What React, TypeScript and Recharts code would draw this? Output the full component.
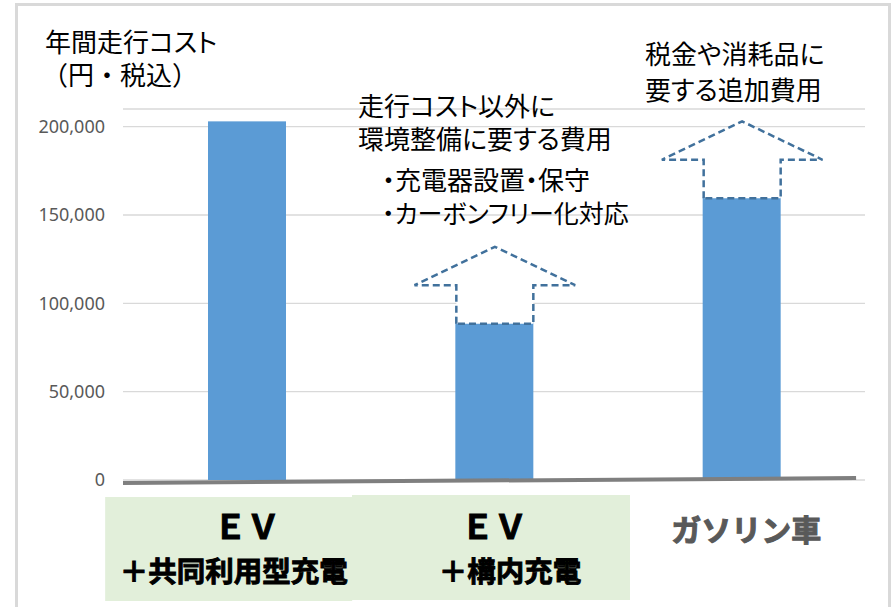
import React from 'react';
import { BarChart, Bar, XAxis, YAxis, CartesianGrid, ReferenceLine } from 'recharts';

// ---- data ----
const categories = ['ＥＶ＋共同利用型充電', 'ＥＶ＋構内充電', 'ガソリン車'];
const labelLine1 = ['ＥＶ', 'ＥＶ', 'ガソリン車'];
const labelLine2 = ['＋共同利用型充電', '＋構内充電', ''];
const annualCost = [203000, 92500, 160000];
const arrowBase: (number | null)[] = [null, 88500, 159500];
const arrowTip: (number | null)[] = [null, 132000, 203000];
const yTicks = [0, 50000, 100000, 150000, 200000];
const yAxisTitle = ['年間走行コスト', '（円・税込）'];
const noteMiddle = ['走行コスト以外に', '環境整備に要する費用', '・充電器設置・保守', '・カーボンフリー化対応'];
const noteRight = ['税金や消耗品に', '要する追加費用'];

const data = categories.map((name, i) => ({
  name,
  cost: annualCost[i],
  arrowBase: arrowBase[i],
  arrowTip: arrowTip[i],
}));

const JP = "'Noto Sans CJK JP', 'Noto Sans', sans-serif";

const CostBar = (props: any) => {
  const { x, y, width, height, payload } = props;
  const v = payload.cost;
  const k = height / v;
  const zeroY = y + height;
  const els: any[] = [<rect key="r" x={x} y={y} width={width} height={height} fill="#5b9bd5" />];
  if (payload.arrowBase != null && payload.arrowTip != null) {
    const yb = zeroY - payload.arrowBase * k;
    const yt = zeroY - payload.arrowTip * k;
    const ys = (yb + yt) / 2;
    const bx0 = x + 1;
    const bx1 = x + width;
    const cx = (bx0 + bx1) / 2;
    const wing = width * 1.03;
    const d = `M${bx0},${yb} L${bx0},${ys} L${cx - wing},${ys} L${cx},${yt} L${cx + wing},${ys} L${bx1},${ys} L${bx1},${yb} Z`;
    els.push(
      <path key="a" d={d} fill="#ffffff" stroke="#41719c" strokeWidth={2.5} strokeDasharray="7 4" />
    );
  }
  return <g>{els}</g>;
};

const CatTick = (props: any) => {
  const { x, y, payload } = props;
  const i = categories.indexOf(payload.value);
  const boxes = [
    { dx0: -141.5, dx1: 105.5, dy0: 17, dy1: 121 },
    { dx0: -142, dx1: 136, dy0: 15, dy1: 120 },
  ];
  const l1dx = [0, 0, 5];
  const l2dx = [-13, 16, 0];
  const box = boxes[i];
  const col = i === 2 ? '#595959' : '#000000';
  return (
    <g>
      {box && (
        <rect x={x + box.dx0} y={y + box.dy0} width={box.dx1 - box.dx0} height={box.dy1 - box.dy0} fill="#e2efda" />
      )}
      <text
        x={x + l1dx[i]}
        y={y + (i === 2 ? 50 : 47)}
        dy="0.36em"
        textAnchor="middle"
        fontFamily={JP}
        fontWeight="bold"
        fontSize={i === 2 ? 30 : 33}
        fill={col}
        stroke={col}
        strokeWidth={1}
      >
        {labelLine1[i]}
      </text>
      {labelLine2[i] && (
        <text
          x={x + l2dx[i]}
          y={y + 92}
          dy="0.36em"
          textAnchor="middle"
          fontFamily={JP}
          fontWeight="bold"
          fontSize={28.5}
          fill="#000000"
          stroke="#000000"
          strokeWidth={0.9}
        >
          {labelLine2[i]}
        </text>
      )}
    </g>
  );
};

const blockStyle = (left: number, top: number, lh: number): React.CSSProperties => ({
  position: 'absolute',
  left,
  top,
  fontSize: 26,
  lineHeight: `${lh}px`,
  whiteSpace: 'nowrap',
  fontFamily: JP,
  color: '#000000',
  fontFeatureSettings: '"palt"',
});

export default function App() {
  return (
    <div
      style={{
        position: 'absolute',
        left: 0,
        top: 0,
        width: 893,
        height: 607,
        overflow: 'hidden',
        background: '#ffffff',
      }}
    >
      <BarChart width={893} height={607} data={data} margin={{ top: 109, right: 28, bottom: 0, left: 8 }}>
        <CartesianGrid vertical={false} stroke="#d9d9d9" strokeWidth={1.3} />
        <XAxis
          dataKey="name"
          axisLine={false}
          tickLine={false}
          tickSize={0}
          tickMargin={0}
          height={127}
          interval={0}
          tick={<CatTick />}
        />
        <XAxis xAxisId="n" type="number" domain={[0, 2]} allowDataOverflow hide />
        <YAxis
          domain={[0, 210000]}
          ticks={yTicks}
          width={115}
          axisLine={false}
          tickLine={false}
          tickSize={0}
          tickMargin={18}
          tickFormatter={(v: number) => v.toLocaleString('en-US')}
          tick={{ fill: '#595959', fontSize: 18, fontFamily: "'Noto Sans', sans-serif" }}
        />
        <Bar dataKey="cost" fill="#5b9bd5" barSize={78} shape={<CostBar />} isAnimationActive={false} />
        <ReferenceLine
          xAxisId="n"
          segment={[
            { x: 0, y: -1700 },
            { x: 1.976, y: 1130 },
          ]}
          stroke="#7f7f7f"
          strokeWidth={4}
          ifOverflow="visible"
        />
      </BarChart>

      <div style={blockStyle(45, 23.5, 33)}>
        {yAxisTitle[0]}
        <br />
        <span style={{ position: 'relative', left: -3, fontFeatureSettings: 'normal' }}>{yAxisTitle[1]}</span>
      </div>

      <div style={blockStyle(358, 87.5, 33)}>
        {noteMiddle[0]}
        <br />
        {noteMiddle[1]}
      </div>
      <div style={blockStyle(382, 161.5, 33)}>
        {noteMiddle[2]}
        <br />
        <span style={{ fontSize: 25 }}>{noteMiddle[3]}</span>
      </div>

      <div style={blockStyle(645, 34.5, 36)}>
        {noteRight[0]}
        <br />
        {noteRight[1]}
      </div>

      <div
        style={{
          position: 'absolute',
          left: 15,
          top: 3,
          width: 876,
          height: 700,
          border: '3px solid #d9d9d9',
          boxSizing: 'border-box',
          pointerEvents: 'none',
        }}
      />
    </div>
  );
}
